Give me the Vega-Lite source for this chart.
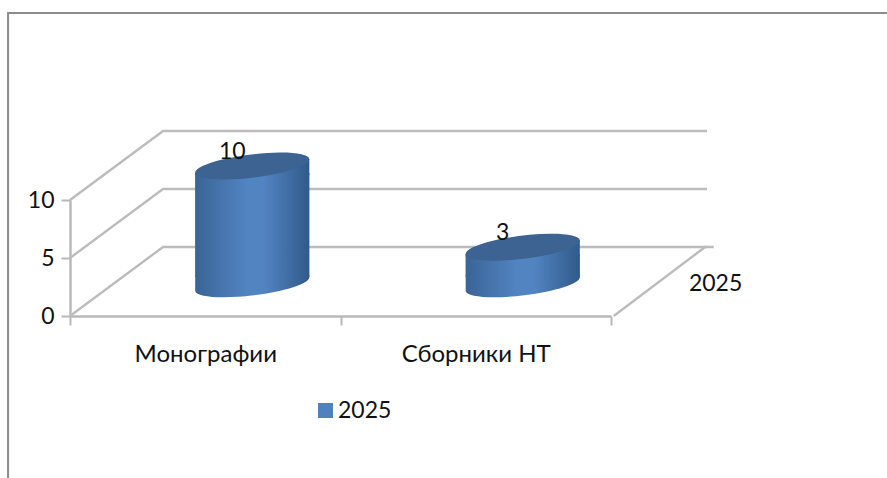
{
"$schema":"https://vega.github.io/schema/vega-lite/v6.json",
"width":541,"height":116,
"autosize":{"type":"none"},
"padding":{"left":70,"top":200,"right":276,"bottom":162},
"background":"white",
"config":{"view":{"stroke":null},"font":"Lato"},
"datasets":{
"bars":[{"category":"Монографии","value":10,"series":"2025"},{"category":"Сборники НТ","value":3,"series":"2025"}],
"frame":[{"u":3.02,"v":26.12},{"u":-0.229,"v":26.12},{"u":-0.229,"v":-13.97}],
"grid":[
{"line":"l0","u":0,"v":0},{"line":"l0","u":0.344,"v":5.95},{"line":"l0","u":2.355,"v":5.95},
{"line":"l5","u":0,"v":5},{"line":"l5","u":0.344,"v":10.95},{"line":"l5","u":2.355,"v":10.95},
{"line":"l10","u":0,"v":10},{"line":"l10","u":0.344,"v":15.95},{"line":"l10","u":2.355,"v":15.95},
{"line":"r","u":2.01,"v":0},{"line":"r","u":2.348,"v":5.95},{"line":"r","u":2.38,"v":5.95}],
"depth":[{"u":2.288,"v":2.75,"label":"2025"}]
},
"resolve":{"scale":{"x":"independent"}},
"layer":[
{"data":{"name":"frame"},"mark":{"type":"line","color":"#8c8c8c","strokeWidth":2},
 "encoding":{"x":{"field":"u","type":"quantitative","axis":null,"scale":{"domain":[0,2],"nice":false,"zero":false}},
 "y":{"field":"v","type":"quantitative","title":null,"scale":{"domain":[0,10],"nice":false},
  "axis":{"values":[0,5,10],"grid":false,"domainColor":"#b8b8b8","domainWidth":2.4,"tickColor":"#b8b8b8","tickWidth":2,"tickSize":9,"labelFontSize":23,"labelColor":"#111111","labelPadding":7,"labelFont":"Lato"}},
 "order":{"field":"v","type":"quantitative","sort":"descending"}}},
{"data":{"name":"grid"},"mark":{"type":"line","color":"#bcbcbc","strokeWidth":2.4},
 "encoding":{"x":{"field":"u","type":"quantitative","axis":null,"scale":{"domain":[0,2],"nice":false,"zero":false}},
 "y":{"field":"v","type":"quantitative","title":null,"scale":{"domain":[0,10],"nice":false}},"detail":{"field":"line"}}},
{"data":{"name":"depth"},"mark":{"type":"text","fontSize":23,"color":"#111111","align":"left","baseline":"middle"},
 "encoding":{"x":{"field":"u","type":"quantitative","axis":null,"scale":{"domain":[0,2],"nice":false,"zero":false}},
 "y":{"field":"v","type":"quantitative","title":null,"scale":{"domain":[0,10],"nice":false}},"text":{"field":"label"}}},
{"data":{"name":"bars"},"mark":{"type":"bar","width":114,"xOffset":47,"yOffset":-27,"y2Offset":-39},
 "encoding":{
 "x":{"field":"category","type":"nominal","sort":null,"title":null,"scale":{"type":"band","paddingInner":0,"paddingOuter":0},
  "axis":{"tickBand":"extent","labelAngle":0,"domainColor":"#b8b8b8","domainWidth":2.4,"tickColor":"#b8b8b8","tickWidth":2,"tickSize":9,"labelFontSize":24,"labelColor":"#111111","labelPadding":17,"labelFont":"Lato"}},
 "y":{"field":"value","type":"quantitative","stack":null,"title":null,"scale":{"domain":[0,10],"nice":false}},
 "y2":{"datum":0},
 "color":{"field":"series","type":"nominal","title":null,"scale":{"range":["#4f81bd"]},
  "legend":{"orient":"none","legendX":244,"legendY":199,"symbolType":"square","symbolSize":225,"symbolStrokeWidth":0,"labelFontSize":23,"labelColor":"#111111","labelFont":"Lato","labelOffset":1,"padding":0}}}},
{"data":{"name":"bars"},"mark":{"type":"bar","width":114,"xOffset":47,"yOffset":-27,"y2Offset":-39,
 "fill":{"gradient":"linear","x1":0,"x2":1,"y1":0,"y2":0,"stops":[{"offset":0,"color":"#3a6496"},{"offset":0.45,"color":"#5284c2"},{"offset":0.6,"color":"#5284c2"},{"offset":1,"color":"#305a8a"}]}},
 "encoding":{"x":{"field":"category","type":"nominal","sort":null,"axis":null,"scale":{"type":"band","paddingInner":0,"paddingOuter":0}},
 "y":{"field":"value","type":"quantitative","stack":null,"title":null,"scale":{"domain":[0,10],"nice":false}},"y2":{"datum":0}}},
{"data":{"name":"bars"},"mark":{"type":"point","filled":true,"opacity":1,"strokeWidth":0,"size":13225,"xOffset":47,"yOffset":-32,
 "shape":"M-0.9925,-0.16L0.9925,-0.16L0.9925,-0.122A1,0.2,-7,0,1,-0.9925,0.122Z",
 "fill":{"gradient":"linear","x1":0,"x2":1,"y1":0,"y2":0,"stops":[{"offset":0,"color":"#3a6496"},{"offset":0.45,"color":"#5284c2"},{"offset":0.6,"color":"#5284c2"},{"offset":1,"color":"#305a8a"}]}},
 "encoding":{"x":{"field":"category","type":"nominal","sort":null,"axis":null,"scale":{"type":"band","paddingInner":0,"paddingOuter":0}},
 "y":{"datum":0,"type":"quantitative","title":null,"scale":{"domain":[0,10],"nice":false}}}},
{"data":{"name":"bars"},"mark":{"type":"point","filled":true,"opacity":1,"strokeWidth":0,"size":13225,"xOffset":47,"yOffset":-34,
 "shape":"M-0.9925,0.16L-0.9925,0.122L0.9925,-0.122L0.9925,0.16Z",
 "fill":{"gradient":"linear","x1":0,"x2":1,"y1":0,"y2":0,"stops":[{"offset":0,"color":"#3a6496"},{"offset":0.45,"color":"#5284c2"},{"offset":0.6,"color":"#5284c2"},{"offset":1,"color":"#305a8a"}]}},
 "encoding":{"x":{"field":"category","type":"nominal","sort":null,"axis":null,"scale":{"type":"band","paddingInner":0,"paddingOuter":0}},
 "y":{"field":"value","type":"quantitative","title":null,"scale":{"domain":[0,10],"nice":false}}}},
{"data":{"name":"bars"},"mark":{"type":"point","filled":true,"opacity":1,"strokeWidth":0,"size":13225,"xOffset":47,"yOffset":-34,
 "shape":"M-0.9925,0.122A1,0.2,-7,1,1,0.9925,-0.122A1,0.2,-7,1,1,-0.9925,0.122Z","fill":"#3c6391"},
 "encoding":{"x":{"field":"category","type":"nominal","sort":null,"axis":null,"scale":{"type":"band","paddingInner":0,"paddingOuter":0}},
 "y":{"field":"value","type":"quantitative","title":null,"scale":{"domain":[0,10],"nice":false}}}},
{"data":{"name":"bars"},"mark":{"type":"text","fontSize":23,"color":"#111111","dx":27,"dy":-48,"baseline":"middle"},
 "encoding":{"x":{"field":"category","type":"nominal","sort":null,"axis":null,"scale":{"type":"band","paddingInner":0,"paddingOuter":0}},
 "y":{"field":"value","type":"quantitative","title":null,"scale":{"domain":[0,10],"nice":false}},"text":{"field":"value","type":"quantitative"}}}
]
}
